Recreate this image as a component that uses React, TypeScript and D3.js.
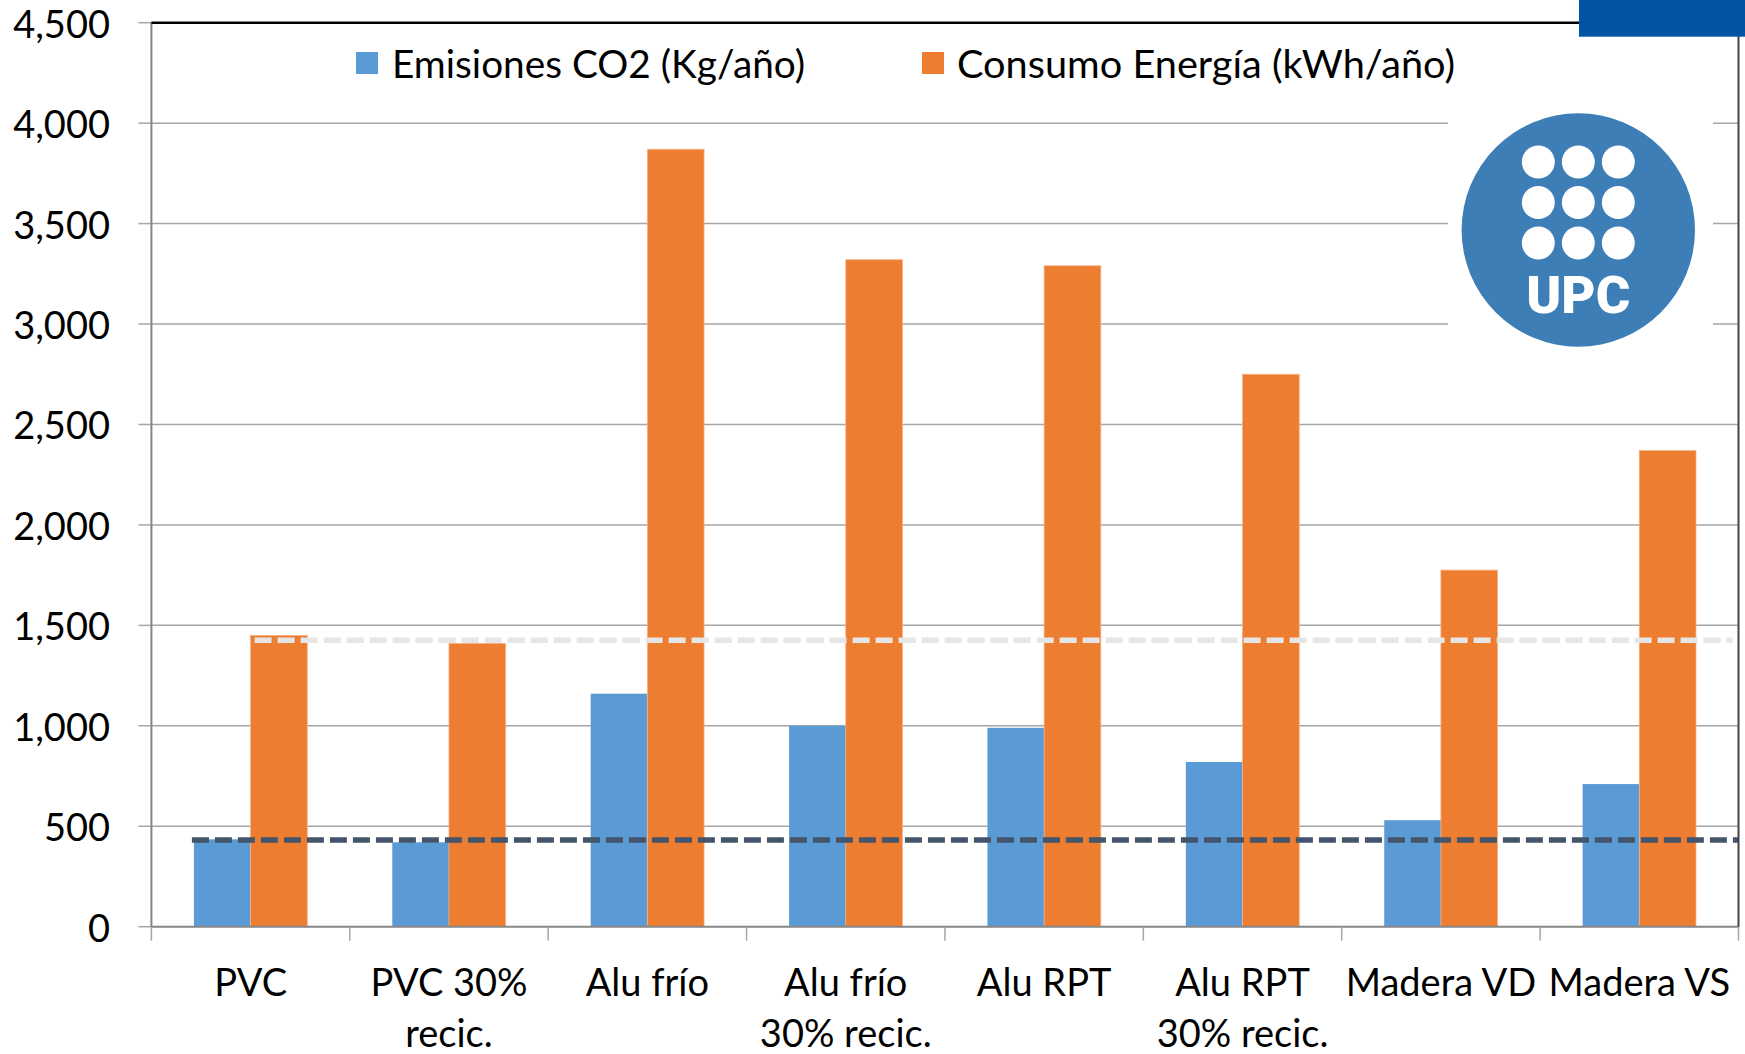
import React from "react";
import * as d3 from "d3";

const categories: string[][] = [
  ["PVC"],
  ["PVC 30%", "recic."],
  ["Alu frío"],
  ["Alu frío", "30% recic."],
  ["Alu RPT"],
  ["Alu RPT", "30% recic."],
  ["Madera VD"],
  ["Madera VS"],
];
const emisiones = [435, 420, 1160, 1000, 990, 820, 530, 710];
const consumo = [1450, 1410, 3870, 3320, 3290, 2750, 1775, 2370];
const yTicks = [0, 500, 1000, 1500, 2000, 2500, 3000, 3500, 4000, 4500];
const refEmisiones = 432;
const refConsumo = 1426;
const seriesNames = ["Emisiones CO2 (Kg/año)", "Consumo Energía (kWh/año)"];
const seriesKeys = ["e", "c"];

const W = 1745;
const H = 1054;
const FONT = "Lato, 'Open Sans', sans-serif";
const BLUE = "#5B9BD5";
const ORANGE = "#ED7D31";

export default function App() {
  const left = 151.4;
  const right = 1738.5;
  const top = 22.7;
  const bottom = 926.7;

  const x = d3
    .scaleBand<number>()
    .domain(categories.map((_, i) => i))
    .range([left, right])
    .paddingInner(0)
    .paddingOuter(0);
  const x1 = d3
    .scaleBand<string>()
    .domain(seriesKeys)
    .range([0, x.bandwidth()])
    .paddingInner(0)
    .paddingOuter(0.75);
  const y = d3.scaleLinear().domain([0, 4500]).range([bottom, top]);
  const fmt = d3.format(",");

  const logoCx = 1578.3;
  const logoCy = 230;

  return (
    <svg
      width={W}
      height={H}
      viewBox={`0 0 ${W} ${H}`}
      style={{ position: "absolute", left: 0, top: 0, background: "#fff" }}
    >
      <rect x={0} y={0} width={W} height={H} fill="#fff" />
      {/* gridlines */}
      {yTicks
        .filter((t) => t !== 0 && t !== 4500)
        .map((t) => (
          <line
            key={"g" + t}
            x1={left}
            x2={right}
            y1={y(t)}
            y2={y(t)}
            stroke="#A6A6A6"
            strokeWidth={1.5}
          />
        ))}
      {/* y ticks */}
      {yTicks.map((t) => (
        <line
          key={"yt" + t}
          x1={left - 13}
          x2={left}
          y1={y(t)}
          y2={y(t)}
          stroke="#A6A6A6"
          strokeWidth={1.5}
        />
      ))}
      {/* y labels */}
      {yTicks.map((t) => (
        <text
          key={"yl" + t}
          x={110}
          y={y(t)}
          textAnchor="end"
          dominantBaseline="central"
          fontFamily={FONT}
          fontSize={38}
          fill="#000"
        >
          {fmt(t)}
        </text>
      ))}
      {/* bars */}
      {categories.map((_, i) => (
        <g key={"b" + i} transform={`translate(${x(i)},0)`}>
          <rect
            x={x1("e")}
            y={y(emisiones[i])}
            width={x1.bandwidth()}
            height={y(0) - y(emisiones[i])}
            fill={BLUE}
          />
          <rect
            x={x1("c")}
            y={y(consumo[i])}
            width={x1.bandwidth()}
            height={y(0) - y(consumo[i])}
            fill={ORANGE}
            stroke="#F4B183"
            strokeWidth={0.8}
          />
        </g>
      ))}
      {/* reference dashed lines */}
      <line
        x1={(x(0) as number) + (x1("c") as number) + 4}
        x2={right - 6}
        y1={y(refConsumo)}
        y2={y(refConsumo)}
        stroke="#E7E6E6"
        strokeWidth={5.5}
        strokeDasharray="17 6"
      />
      <line
        x1={(x(0) as number) + (x1("e") as number) - 2}
        x2={right}
        y1={y(refEmisiones)}
        y2={y(refEmisiones)}
        stroke="#44546A"
        strokeWidth={5.5}
        strokeDasharray="17 6"
      />
      {/* x axis */}
      <line x1={left} x2={right} y1={bottom} y2={bottom} stroke="#868686" strokeWidth={2} />
      {d3.range(categories.length + 1).map((i) => {
        const xx = i < categories.length ? (x(i) as number) : right;
        return (
          <line
            key={"xt" + i}
            x1={xx}
            x2={xx}
            y1={bottom}
            y2={bottom + 14}
            stroke="#A6A6A6"
            strokeWidth={1.5}
          />
        );
      })}
      {/* left axis */}
      <line x1={left} x2={left} y1={top} y2={bottom} stroke="#868686" strokeWidth={2} />
      {/* top border and right border */}
      <line x1={left} x2={right} y1={top} y2={top} stroke="#000" strokeWidth={2.5} />
      <line x1={right} x2={right} y1={top} y2={bottom} stroke="#444" strokeWidth={2} />
      {/* category labels */}
      {categories.map((lines, i) => (
        <text
          key={"xl" + i}
          x={(x(i) as number) + x.bandwidth() / 2}
          y={996}
          textAnchor="middle"
          fontFamily={FONT}
          fontSize={38}
          fill="#000"
        >
          {lines.map((ln, j) => (
            <tspan key={j} x={(x(i) as number) + x.bandwidth() / 2} dy={j === 0 ? 0 : 51}>
              {ln}
            </tspan>
          ))}
        </text>
      ))}
      {/* legend */}
      <rect x={356} y={52} width={22} height={22} fill={BLUE} />
      <text
        x={392}
        y={63}
        dominantBaseline="central"
        fontFamily={FONT}
        fontSize={39}
        fill="#000"
        textLength={413}
        lengthAdjust="spacingAndGlyphs"
      >
        {seriesNames[0]}
      </text>
      <rect x={922} y={52} width={22} height={22} fill={ORANGE} />
      <text
        x={957}
        y={63}
        dominantBaseline="central"
        fontFamily={FONT}
        fontSize={39}
        fill="#000"
        textLength={498}
        lengthAdjust="spacingAndGlyphs"
      >
        {seriesNames[1]}
      </text>
      {/* logo */}
      <rect x={1448} y={98} width={265} height={262} fill="#fff" />
      <circle cx={logoCx} cy={logoCy} r={116.7} fill="#3D7EB6" />
      {[-40, 0, 40].map((dy, r) =>
        [-40, 0, 40].map((dx, c) => (
          <circle
            key={`d${r}${c}`}
            cx={logoCx + dx}
            cy={logoCy - 68 + r * 40.5}
            r={16.5}
            fill="#fff"
          />
        ))
      )}
      <text
        x={logoCx}
        y={313}
        textAnchor="middle"
        fontFamily="Roboto, sans-serif"
        fontWeight={900}
        fontSize={51}
        fill="#fff"
        textLength={104}
        lengthAdjust="spacingAndGlyphs"
      >
        UPC
      </text>
      {/* top-right blue block */}
      <rect x={1579} y={0} width={W - 1579} height={36.7} fill="#0353A4" />
    </svg>
  );
}
